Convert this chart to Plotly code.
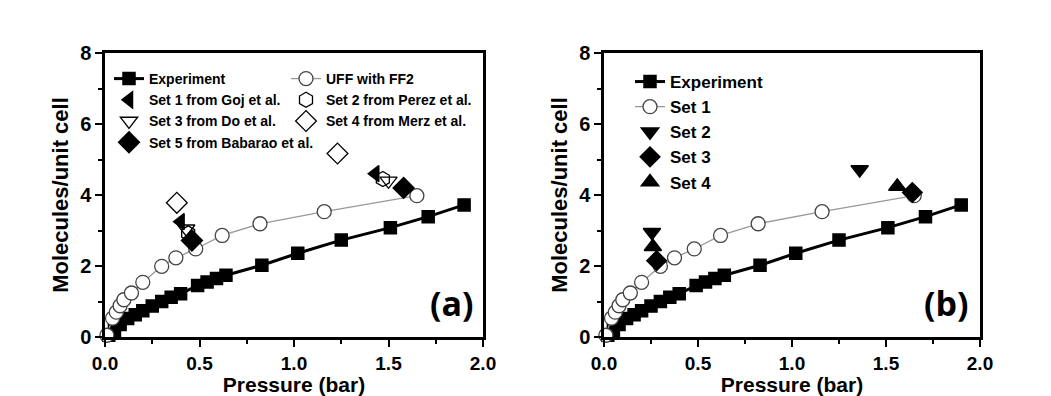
import plotly.graph_objects as go

# ---------------- data ----------------
exp_p = [0.02, 0.05, 0.08, 0.12, 0.16, 0.20, 0.25, 0.30, 0.35, 0.40, 0.49, 0.54, 0.59, 0.64, 0.83, 1.02, 1.25, 1.51, 1.71, 1.90]
exp_n = [0.05, 0.18, 0.35, 0.52, 0.63, 0.74, 0.87, 1.0, 1.12, 1.22, 1.45, 1.55, 1.65, 1.74, 2.02, 2.36, 2.73, 3.08, 3.39, 3.72]

uff_p = [0.01, 0.04, 0.06, 0.08, 0.10, 0.14, 0.20, 0.30, 0.375, 0.48, 0.62, 0.82, 1.16, 1.65]
uff_n = [0.05, 0.53, 0.70, 0.88, 1.05, 1.24, 1.54, 1.99, 2.23, 2.48, 2.86, 3.19, 3.53, 3.98]

# panel (a) literature sets
a_set1_p = [0.40, 1.43]; a_set1_n = [3.25, 4.60]
a_set2_p = [0.44, 1.47]; a_set2_n = [2.92, 4.45]
a_set3_p = [0.43, 1.50]; a_set3_n = [3.05, 4.40]
a_set4_p = [0.38, 1.23]; a_set4_n = [3.78, 5.17]
a_set5_p = [0.46, 1.58]; a_set5_n = [2.72, 4.20]

# panel (b) sets
b_set2_p = [0.255, 1.36]; b_set2_n = [2.95, 4.72]
b_set3_p = [0.28, 1.64];  b_set3_n = [2.15, 4.07]
b_set4_p = [0.26, 1.56];  b_set4_n = [2.54, 4.24]

x_ticks = [0.0, 0.5, 1.0, 1.5, 2.0]
x_ticklabels = ["0.0", "0.5", "1.0", "1.5", "2.0"]
y_ticks = [0, 2, 4, 6, 8]
y_ticklabels = ["0", "2", "4", "6", "8"]

FONT = "Liberation Sans, Arial, sans-serif"
W, H = 1051, 396

fig = go.Figure()

def add(x, y, name, xa, ya, legend, mode="markers", symbol="square", size=10,
        color="black", fill="black", line=None, lw=1.5, showlegend=True):
    fig.add_trace(go.Scatter(
        x=x, y=y, name=name, mode=mode, xaxis=xa, yaxis=ya, legend=legend,
        showlegend=showlegend, cliponaxis=False,
        marker=dict(symbol=symbol, size=size, color=fill,
                    line=dict(color=color, width=lw)),
        line=line))

# ----- panel (a) -----
add(exp_p, exp_n, "Experiment", "x", "y", "legend", mode="lines+markers",
    symbol="square", size=12, line=dict(color="black", width=3))
add(uff_p, uff_n, "UFF with FF2", "x", "y", "legend2", mode="lines+markers",
    symbol="circle", size=14, color="#444", fill="white",
    line=dict(color="#999", width=1.3), lw=1.3)
add(a_set1_p, a_set1_n, "Set 1 from Goj et al.", "x", "y", "legend",
    symbol="triangle-left", size=14)
add(a_set2_p, a_set2_n, "Set 2 from Perez et al.", "x", "y", "legend2",
    symbol="hexagon-open", size=15, color="#444", lw=1.3)
add(a_set3_p, a_set3_n, "Set 3 from Do et al.", "x", "y", "legend",
    symbol="triangle-down-open", size=15, color="#444", lw=1.3)
add(a_set4_p, a_set4_n, "Set 4 from Merz et al.", "x", "y", "legend2",
    symbol="diamond-open", size=16, color="#444", lw=1.3)
add(a_set5_p, a_set5_n, "Set 5 from Babarao et al.", "x", "y", "legend",
    symbol="diamond", size=16)

# ----- panel (b) -----
add(exp_p, exp_n, "Experiment", "x2", "y2", "legend3", mode="lines+markers",
    symbol="square", size=12, line=dict(color="black", width=3))
add(uff_p, uff_n, "Set 1", "x2", "y2", "legend3", mode="lines+markers",
    symbol="circle", size=14, color="#444", fill="white",
    line=dict(color="#999", width=1.3), lw=1.3)
add(b_set2_p, b_set2_n, "Set 2", "x2", "y2", "legend3",
    symbol="triangle-down", size=15)
add(b_set3_p, b_set3_n, "Set 3", "x2", "y2", "legend3",
    symbol="diamond", size=15)
add(b_set4_p, b_set4_n, "Set 4", "x2", "y2", "legend3",
    symbol="triangle-up", size=15)

def px_x(p):
    return p / W

def px_y(p):
    return 1 - p / H

def bold(labels):
    return ["<b>%s</b>" % t for t in labels]

xaxis_common = dict(
    range=[0, 2.0], tickvals=x_ticks, ticktext=bold(x_ticklabels),
    ticks="outside", ticklen=7, tickwidth=2, tickcolor="black",
    minor=dict(dtick=0.25, tick0=0, ticks="outside", ticklen=4, tickwidth=2, tickcolor="black"),
    showline=True, linecolor="black", linewidth=2.5, mirror=True,
    showgrid=False, zeroline=False, automargin=False,
    tickfont=dict(family=FONT, size=19, color="black"),
    title=dict(text="<b>Pressure (bar)</b>", font=dict(family=FONT, size=21, color="black"), standoff=8),
)
yaxis_common = dict(
    range=[0, 8], tickvals=y_ticks, ticktext=bold(y_ticklabels),
    ticks="outside", ticklen=7, tickwidth=2, tickcolor="black",
    minor=dict(dtick=1, tick0=0, ticks="outside", ticklen=4, tickwidth=2, tickcolor="black"),
    showline=True, linecolor="black", linewidth=2.5, mirror=True,
    showgrid=False, zeroline=False, automargin=False,
    tickfont=dict(family=FONT, size=20, color="black"),
    title=dict(text="<b>Molecules/unit cell</b>", font=dict(family=FONT, size=22, color="black"), standoff=6),
)

ydom = [px_y(337), px_y(53)]
fig.update_layout(
    width=W, height=H,
    margin=dict(l=0, r=0, t=0, b=0, autoexpand=False),
    paper_bgcolor="white", plot_bgcolor="white",
    xaxis=dict(xaxis_common, domain=[px_x(105), px_x(483)], anchor="y"),
    yaxis=dict(yaxis_common, domain=ydom, anchor="x"),
    xaxis2=dict(xaxis_common, domain=[px_x(604), px_x(980)], anchor="y2"),
    yaxis2=dict(yaxis_common, domain=ydom, anchor="x2"),
    legend=dict(x=px_x(109), y=px_y(63), xanchor="left", yanchor="top",
                bgcolor="rgba(0,0,0,0)", tracegroupgap=0, itemwidth=30,
                font=dict(family=FONT, size=14, color="black", weight="bold")),
    legend2=dict(x=px_x(286), y=px_y(63), xanchor="left", yanchor="top",
                 bgcolor="rgba(0,0,0,0)", tracegroupgap=0, itemwidth=30,
                 font=dict(family=FONT, size=14, color="black", weight="bold")),
    legend3=dict(x=px_x(630), y=px_y(64), xanchor="left", yanchor="top",
                 bgcolor="rgba(0,0,0,0)", tracegroupgap=0, itemwidth=30,
                 font=dict(family=FONT, size=17, color="black", weight="bold")),
    showlegend=True,
)

fig.add_annotation(text="(a)", x=px_x(452), y=px_y(303), xref="paper", yref="paper",
                   xanchor="center", yanchor="middle",
                   showarrow=False, font=dict(family="Open Sans, sans-serif", size=34, color="black", weight="bold"))
fig.add_annotation(text="(b)", x=px_x(946), y=px_y(303), xref="paper", yref="paper",
                   xanchor="center", yanchor="middle",
                   showarrow=False, font=dict(family="Open Sans, sans-serif", size=34, color="black", weight="bold"))

fig.write_html("out.html")
